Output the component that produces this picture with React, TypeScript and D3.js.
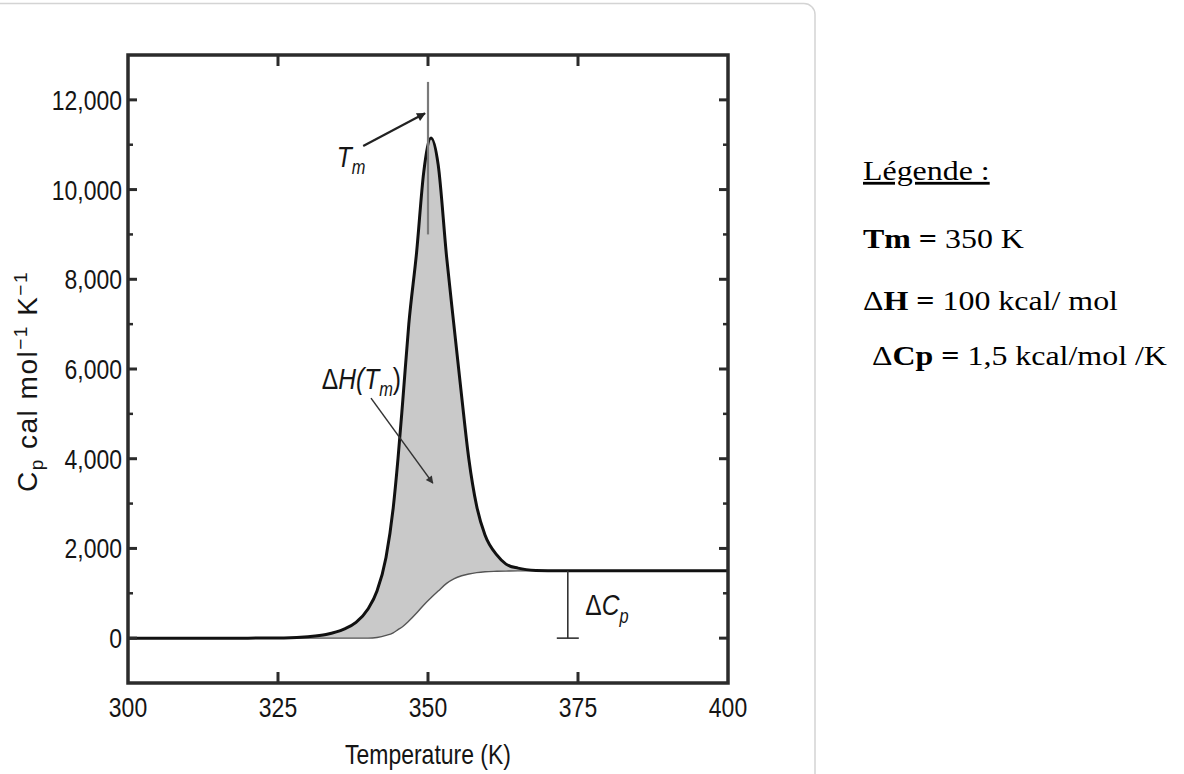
import * as d3 from "d3";
import React from "react";

// temperature grid (K) and the two heat capacity traces
const temps = [300, 310, 320, 326, 330, 333, 336, 338, 340, 341.5, 343, 344.2, 345, 345.8, 346.8, 348.1, 349.3, 350.5, 351.7, 353.1, 354.3, 355.6, 356.8, 358.1, 359.5, 361.5, 363, 365, 368, 372, 380, 390, 400];
const cpTotal = [0, 0, 0, 5, 30, 80, 200, 350, 650, 1050, 1800, 2900, 4000, 5300, 7000, 8600, 10400, 11150, 10550, 8500, 7000, 5400, 4000, 2950, 2300, 1850, 1650, 1560, 1510, 1500, 1500, 1500, 1500];
const cpBaseline = [0, 0, 0, 0, 0, 0, 0, 0, 0, 15, 60, 120, 190, 260, 380, 560, 740, 900, 1050, 1220, 1320, 1390, 1430, 1460, 1480, 1490, 1495, 1500, 1500, 1500, 1500, 1500, 1500];

const xTicks = [300, 325, 350, 375, 400];
const yTicks = [0, 2000, 4000, 6000, 8000, 10000, 12000];
const yMinor = [1000, 3000, 5000, 7000, 9000, 11000];

// annotations in data units [T, Cp]
const tmMarker = [[350, 9000], [350, 12400]];
const tmArrow = [[339.2, 10970], [349.5, 11700]];
const tmLabel = [334.8, 10510];
const dhArrow = [[340.5, 5350], [350.8, 3455]];
const dhLabel = [332.3, 5560];
const dcpBar = [[373.3, 0], [373.3, 1500]];
const dcpLabel = [376.2, 513];

const legendLines = ["Légende :", "Tm = 350 K", "ΔH = 100 kcal/ mol", "ΔCp = 1,5 kcal/mol /K"];

const W = 1184, H = 774;
const left = 128, right = 728, top = 55, bottom = 683;
const sans = "'Liberation Sans', Arial, sans-serif";
const serif = "'Liberation Serif', 'Times New Roman', serif";
const narrow = 0.82; // the figure uses a condensed Helvetica

// condensed text helper
const NText = ({ x, y, anchor = "start", children, ...rest }: any) => (
  <text transform={`translate(${x},${y}) scale(${narrow},1)`} textAnchor={anchor} {...rest}>{children}</text>
);

export default function App() {
  const x = d3.scaleLinear().domain([300, 400]).range([left, right]);
  const y = d3.scaleLinear().domain([-1000, 13000]).range([bottom, top]);
  const pts = temps.map((t, i) => ({ t, hi: cpTotal[i], lo: cpBaseline[i] }));

  const area = d3.area<any>().x(d => x(d.t)).y0(d => y(d.lo)).y1(d => y(d.hi)).curve(d3.curveMonotoneX);
  const lineHi = d3.line<any>().x(d => x(d.t)).y(d => y(d.hi)).curve(d3.curveMonotoneX);
  const lineLo = d3.line<any>().x(d => x(d.t)).y(d => y(d.lo)).curve(d3.curveMonotoneX);
  const fmt = d3.format(",");
  const seg = (p: number[][]) => ({ x1: x(p[0][0]), y1: y(p[0][1]), x2: x(p[1][0]), y2: y(p[1][1]) });

  return (
    <svg width={W} height={H} style={{ position: "absolute", left: 0, top: 0, background: "#fff" }}>
      <defs>
        <marker id="ah" viewBox="0 0 10 10" refX="9" refY="5" markerWidth="5" markerHeight="4" orient="auto" markerUnits="strokeWidth">
          <path d="M0,0 L10,5 L0,10 z" fill="#222" />
        </marker>
        <marker id="ah2" viewBox="0 0 10 10" refX="9" refY="5" markerWidth="6" markerHeight="5" orient="auto" markerUnits="strokeWidth">
          <path d="M0,0 L10,5 L0,10 z" fill="#333" />
        </marker>
      </defs>
      {/* card border */}
      <rect x={-20} y={3.5} width={835} height={820} rx={11} fill="none" stroke="#d4d4d4" strokeWidth={1.5} />

      {/* shaded enthalpy area and curves */}
      <path d={area(pts) || ""} fill="#c9c9c9" />
      <path d={lineLo(pts) || ""} fill="none" stroke="#555" strokeWidth={1.4} />
      <path d={lineHi(pts) || ""} fill="none" stroke="#111" strokeWidth={3} />

      {/* frame */}
      <rect x={left} y={top} width={right - left} height={bottom - top} fill="none" stroke="#2b2b2b" strokeWidth={3.5} />

      {/* ticks */}
      <g stroke="#2b2b2b">
        {yTicks.map(v => (
          <g key={"yt" + v}>
            <line x1={left} x2={left + 9} y1={y(v)} y2={y(v)} strokeWidth={3} />
            <line x1={right} x2={right - 9} y1={y(v)} y2={y(v)} strokeWidth={3} />
          </g>
        ))}
        {yMinor.map(v => (
          <g key={"ym" + v}>
            <line x1={left} x2={left + 5} y1={y(v)} y2={y(v)} strokeWidth={2.5} />
            <line x1={right} x2={right - 5} y1={y(v)} y2={y(v)} strokeWidth={2.5} />
          </g>
        ))}
        {xTicks.slice(1, -1).map(v => (
          <g key={"xt" + v}>
            <line x1={x(v)} x2={x(v)} y1={bottom} y2={bottom - 11} strokeWidth={3} />
            <line x1={x(v)} x2={x(v)} y1={top} y2={top + 11} strokeWidth={3} />
          </g>
        ))}
      </g>

      {/* tick labels */}
      <g fontFamily={sans} fontSize={28} fill="#151515">
        {yTicks.map(v => (
          <NText key={"yl" + v} x={left - 6} y={y(v) + 10} anchor="end">{fmt(v)}</NText>
        ))}
        {xTicks.map(v => (
          <NText key={"xl" + v} x={x(v)} y={717} anchor="middle">{v}</NText>
        ))}
        <NText x={x(350)} y={764} anchor="middle">Temperature (K)</NText>
        <text transform={`translate(37,${(270 + 493) / 2}) rotate(-90)`} textAnchor="middle" letterSpacing={1.5}>
          C<tspan dy={6} fontSize={19}>p</tspan><tspan dy={-6}> cal mol</tspan><tspan dy={-10} fontSize={19}>−1</tspan><tspan dy={10}> K</tspan><tspan dy={-10} fontSize={19}>−1</tspan>
        </text>
      </g>

      {/* annotations */}
      <line {...seg(tmMarker)} stroke="#7a7a7a" strokeWidth={2.2} />
      <line {...seg(tmArrow)} stroke="#222" strokeWidth={2.2} markerEnd="url(#ah)" />
      <line {...seg(dhArrow)} stroke="#333" strokeWidth={1.5} markerEnd="url(#ah2)" />
      <line {...seg(dcpBar)} stroke="#333" strokeWidth={1.6} />
      <line x1={x(dcpBar[0][0]) - 11} x2={x(dcpBar[0][0]) + 11} y1={y(0)} y2={y(0)} stroke="#333" strokeWidth={1.6} />

      <g fontFamily={sans} fontSize={30} fill="#151515" fontStyle="italic">
        <NText x={x(tmLabel[0])} y={y(tmLabel[1])}>T<tspan dy={7} fontSize={20}>m</tspan></NText>
        <NText x={x(dhLabel[0])} y={y(dhLabel[1])}>
          <tspan fontStyle="normal">Δ</tspan>H(T<tspan dy={7} fontSize={20}>m</tspan><tspan dy={-7} fontStyle="normal">)</tspan>
        </NText>
        <NText x={x(dcpLabel[0])} y={y(dcpLabel[1])}>
          <tspan fontStyle="normal">Δ</tspan>C<tspan dy={8} fontSize={20}>p</tspan>
        </NText>
      </g>

      {/* legend */}
      <g fontFamily={serif} fontSize={28} fill="#000">
        <g transform="translate(863,180) scale(1.14,1)">
          <text textDecoration="underline">{legendLines[0]}</text>
        </g>
        <g transform="translate(863,248) scale(1.14,1)">
          <text><tspan fontWeight="bold">{legendLines[1].slice(0, 4)}</tspan>{legendLines[1].slice(4)}</text>
        </g>
        <g transform="translate(863,310) scale(1.14,1)">
          <text><tspan>{legendLines[2].slice(0, 1)}</tspan><tspan fontWeight="bold">{legendLines[2].slice(1, 4)}</tspan>{legendLines[2].slice(4)}</text>
        </g>
        <g transform="translate(872,365) scale(1.14,1)">
          <text><tspan>{legendLines[3].slice(0, 1)}</tspan><tspan fontWeight="bold">{legendLines[3].slice(1, 5)}</tspan>{legendLines[3].slice(5)}</text>
        </g>
      </g>
    </svg>
  );
}
